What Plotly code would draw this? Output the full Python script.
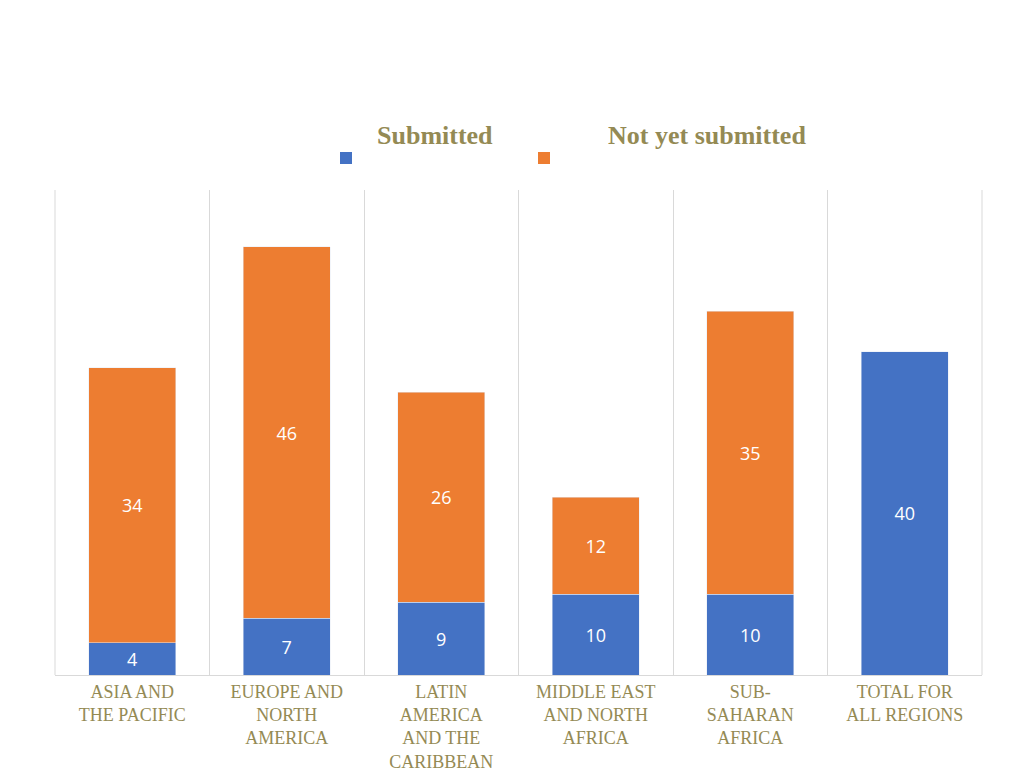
import plotly.graph_objects as go

categories = ["ASIA AND<br>THE PACIFIC", "EUROPE AND<br>NORTH<br>AMERICA",
              "LATIN<br>AMERICA<br>AND THE<br>CARIBBEAN", "MIDDLE EAST<br>AND NORTH<br>AFRICA",
              "SUB-<br>SAHARAN<br>AFRICA", "TOTAL FOR<br>ALL REGIONS"]
submitted = [4, 7, 9, 10, 10, 40]
not_yet = [34, 46, 26, 12, 35, None]
series_names = ["Submitted", "Not yet submitted"]
colors = ["#4472C4", "#ED7D31"]
olive = "#948A54"
grid = "#D9D9D9"

# page offset (body margin) compensation: figure drawn at (8, 8)
OFF = 8
L, R, T, B = 55, 982, 190, 675  # plot area in page pixels

fig = go.Figure()
for name, vals, col in zip(series_names, [submitted, not_yet], colors):
    fig.add_trace(go.Bar(
        x=categories, y=vals, name=name, marker_color=col,
        text=[("" if v is None else str(v)) for v in vals],
        textposition="inside", insidetextanchor="middle",
        textfont=dict(color="white", size=18, family="Open Sans"),
        constraintext="none", showlegend=False,
    ))

fig.update_layout(
    barmode="stack", bargap=0.44,
    width=1024 - OFF, height=775 - OFF,
    margin=dict(l=L - OFF, r=1024 - R, t=T - OFF, b=775 - B),
    plot_bgcolor="white", paper_bgcolor="white",
    uniformtext=dict(mode=False),
)

fig.update_xaxes(
    tickson="boundaries", showgrid=True, gridcolor=grid, gridwidth=1,
    showline=True, linecolor=grid, ticks="", automargin=False,
    tickfont=dict(family="Liberation Serif", size=18, color=olive),
)
fig.update_yaxes(range=[0, 60], showgrid=False, showticklabels=False, zeroline=False, automargin=False)


def px(x):
    return (x - L) / (R - L)


def py(y):
    return (B - y) / (B - T)


# outer boundary gridlines
for xe in (0, 1):
    fig.add_shape(type="line", xref="paper", yref="paper", x0=xe, x1=xe, y0=0, y1=1,
                  line=dict(color=grid, width=1), layer="below")

# manual legend: text above square markers
legend_items = [(series_names[0], colors[0], 346, 435), (series_names[1], colors[1], 544, 707)]
for name, col, mx, tx in legend_items:
    fig.add_annotation(text=f"<b>{name}</b>", x=px(tx), y=py(136),
                       xref="paper", yref="paper", xanchor="center", yanchor="middle",
                       showarrow=False, font=dict(family="Liberation Serif", size=26, color=olive))
    fig.add_shape(type="rect", xref="paper", yref="paper",
                  x0=px(mx - 6), x1=px(mx + 6), y0=py(164), y1=py(152),
                  fillcolor=col, line=dict(width=0))

fig.write_html("out.html")
